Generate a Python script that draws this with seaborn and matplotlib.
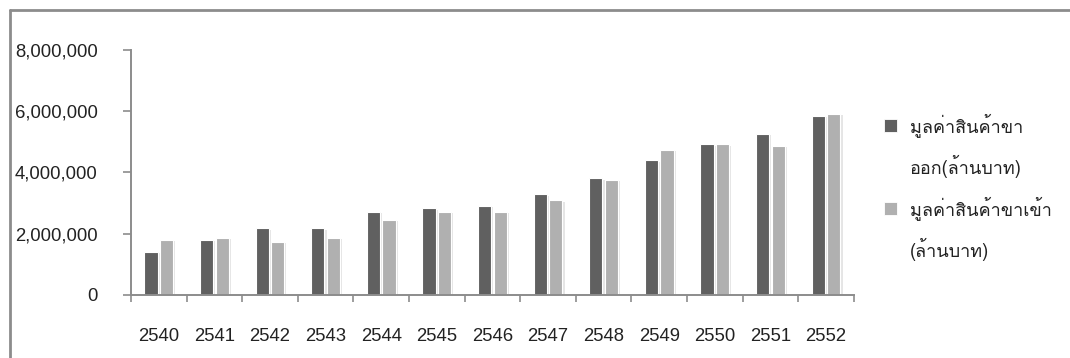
import matplotlib
matplotlib.use("Agg")
import os
import numpy as np
import pandas as pd
import seaborn as sns
import matplotlib.pyplot as plt
import matplotlib.patheffects as pe
from matplotlib import font_manager
from matplotlib.ft2font import FT2Font
from matplotlib.lines import Line2D
from matplotlib.patches import Rectangle
from matplotlib.ticker import FuncFormatter, FixedLocator

# Trade values by Buddhist-era year (million baht)
years = ["2540", "2541", "2542", "2543", "2544", "2545", "2546",
         "2547", "2548", "2549", "2550", "2551", "2552"]
exports = [1400000, 1800000, 2180000, 2180000, 2710000, 2830000, 2900000,
           3290000, 3810000, 4400000, 4920000, 5250000, 5840000]
imports = [1800000, 1860000, 1730000, 1860000, 2450000, 2710000, 2710000,
           3090000, 3750000, 4730000, 4920000, 4860000, 5910000]
series_names = ["มูลค่าสินค้าขาออก(ล้านบาท)", "มูลค่าสินค้าขาเข้า(ล้านบาท)"]
legend_lines = [["มูลค่าสินค้าขา", "ออก(ล้านบาท)"],
                ["มูลค่าสินค้าขาเข้า", "(ล้านบาท)"]]
y_ticks = [0, 2000000, 4000000, 6000000, 8000000]

DARK = "#606060"
LIGHT = "#b0b0b0"
FRAME = "#8c8c8c"
TEXT = "#222222"


def thai_font():
    """Return the name of an installed family that covers Thai script."""
    for path in sorted(font_manager.findSystemFonts()):
        try:
            cmap = FT2Font(path).get_charmap()
        except Exception:
            continue
        if 0x0E21 in cmap and 0x0E49 in cmap:
            return font_manager.FontProperties(fname=path).get_name()
    return "DejaVu Sans"


def latin_font(size):
    """Regular-width Liberation Sans for the numeric tick labels."""
    for path in font_manager.findSystemFonts():
        if os.path.basename(path) == "LiberationSans-Regular.ttf":
            return font_manager.FontProperties(fname=path, size=size)
    return font_manager.FontProperties(family="Liberation Sans", size=size)


sns.set_theme(style="white")
thai = thai_font()
plt.rcParams["font.family"] = ["Liberation Sans", thai, "DejaVu Sans"]

df = pd.DataFrame({
    "year": years * 2,
    "value": exports + imports,
    "series": [series_names[0]] * len(years) + [series_names[1]] * len(years),
})

fig = plt.figure(figsize=(10.7, 3.58), dpi=100)
ax = fig.add_axes([0.1224, 0.176, 0.6756, 0.685])

sns.barplot(data=df, x="year", y="value", hue="series", order=years,
            hue_order=series_names, palette=[DARK, LIGHT],
            width=0.56, gap=0.15, edgecolor="white", linewidth=0.8,
            errorbar=None, legend=False, ax=ax)

shadow = [pe.SimplePatchShadow(offset=(1.5, -1), shadow_rgbFace="#aaaaaa", alpha=0.3),
          pe.Normal()]
for patch in ax.patches:
    patch.set_path_effects(shadow)

ax.set_xlim(-0.5, len(years) - 0.5)
ax.set_ylim(0, 8000000)
ax.set_yticks(y_ticks)
ax.yaxis.set_major_formatter(FuncFormatter(lambda v, _: f"{int(v):,}"))
ax.set_xlabel("")
ax.set_ylabel("")

# Category boundary ticks on the x axis, labels centred between them
ax.xaxis.set_minor_locator(FixedLocator(np.arange(-0.5, len(years), 1.0)))
ax.tick_params(axis="x", which="major", length=0, pad=24, colors=TEXT)
ax.tick_params(axis="x", which="minor", bottom=True, length=5, width=1.2, color=FRAME)
ax.tick_params(axis="y", which="major", left=True, length=6, width=1.2, color=FRAME,
               pad=18, labelcolor=TEXT)

tick_fp = latin_font(13.3)
fig.canvas.draw()
for lbl in ax.get_xticklabels() + ax.get_yticklabels():
    lbl.set_fontproperties(tick_fp)

for side in ["top", "right"]:
    ax.spines[side].set_visible(False)
for side in ["left", "bottom"]:
    ax.spines[side].set_color(FRAME)
    ax.spines[side].set_linewidth(1.4)

# Legend: one swatch per series, placed beside the first line of its label
handles, labels = [], []
for color, lines in zip([DARK, LIGHT], legend_lines):
    handles.append(Rectangle((0, 0), 1, 1, facecolor=color, edgecolor="white", linewidth=0.6))
    labels.append(lines[0])
    handles.append(Rectangle((0, 0), 1, 1, facecolor="none", edgecolor="none"))
    labels.append(lines[1])
leg = fig.legend(handles, labels, loc="upper left", bbox_to_anchor=(0.826, 0.685),
                 frameon=False, borderpad=0, borderaxespad=0,
                 handlelength=0.75, handleheight=0.75, handletextpad=0.7,
                 labelspacing=1.0, prop={"family": [thai, "DejaVu Sans"], "size": 13})
for t in leg.get_texts():
    t.set_color(TEXT)

# Outer chart frame (left and top edges)
fig.add_artist(Line2D([0.0095, 0.0095], [0.0, 0.972], transform=fig.transFigure,
                      color=FRAME, linewidth=2))
fig.add_artist(Line2D([0.0095, 1.0], [0.972, 0.972], transform=fig.transFigure,
                      color=FRAME, linewidth=2))

fig.savefig("out.png", dpi=100, facecolor="white")
